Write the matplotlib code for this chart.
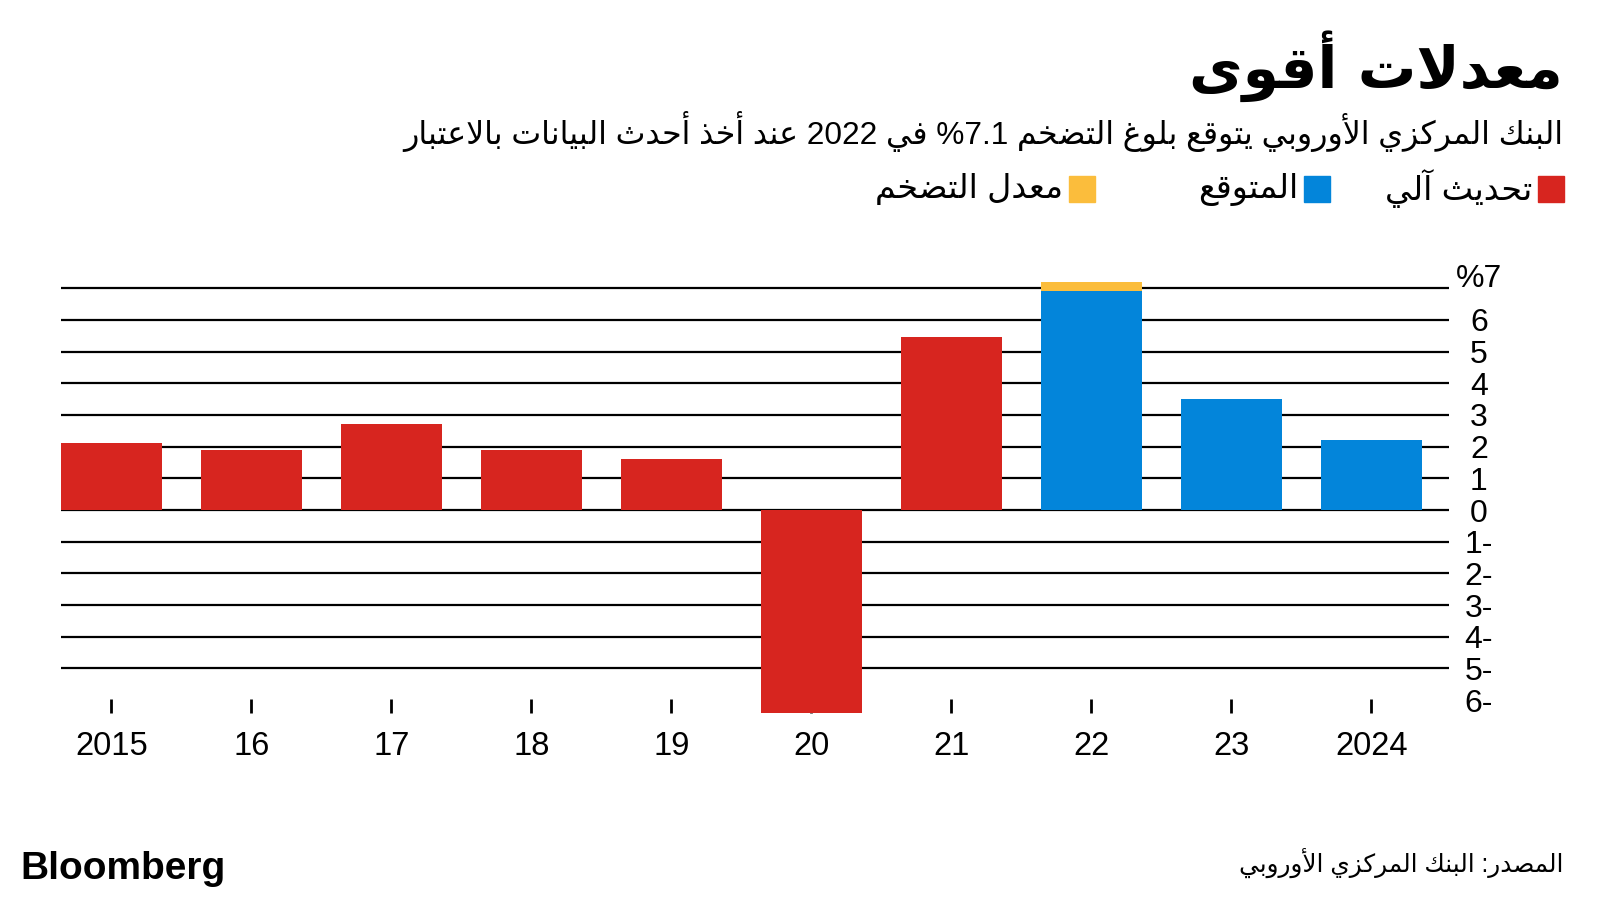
import numpy as np
import matplotlib
matplotlib.use("Agg")
import matplotlib.pyplot as plt
from matplotlib.patches import Rectangle

plt.rcParams['font.family'] = ['Liberation Sans', 'DejaVu Sans']

# data
years = ['2015', '16', '17', '18', '19', '20', '21', '22', '23', '2024']
actual = [2.1, 1.9, 2.7, 1.9, 1.6, -6.4, 5.45, 0, 0, 0]
forecast = [0, 0, 0, 0, 0, 0, 0, 6.9, 3.5, 2.2]
inflation_extra = [0, 0, 0, 0, 0, 0, 0, 0.3, 0, 0]
yticks = [7, 6, 5, 4, 3, 2, 1, 0, -1, -2, -3, -4, -5, -6]
ylabels = ['%7', '6', '5', '4', '3', '2', '1', '0', '1-', '2-', '3-', '4-', '5-', '6-']
gridvals = [7, 6, 5, 4, 3, 2, 1, 0, -1, -2, -3, -4, -5]

title = 'معدلات أقوى'
subtitle = 'البنك المركزي الأوروبي يتوقع بلوغ التضخم %7.1 في 2022 عند أخذ أحدث البيانات بالاعتبار'
legend_labels = ['تحديث آلي', 'المتوقع', 'معدل التضخم']
source = 'المصدر: البنك المركزي الأوروبي'

red = '#d7251f'
blue = '#0385da'
yellow = '#fbbd3c'

# --- tiny arabic shaper (no arabic_reshaper available) ---
FORMS = {
    'ء': (0xFE80, 1), 'آ': (0xFE81, 2), 'أ': (0xFE83, 2), 'ؤ': (0xFE85, 2),
    'إ': (0xFE87, 2), 'ئ': (0xFE89, 4), 'ا': (0xFE8D, 2), 'ب': (0xFE8F, 4),
    'ة': (0xFE93, 2), 'ت': (0xFE95, 4), 'ث': (0xFE99, 4), 'ج': (0xFE9D, 4),
    'ح': (0xFEA1, 4), 'خ': (0xFEA5, 4), 'د': (0xFEA9, 2), 'ذ': (0xFEAB, 2),
    'ر': (0xFEAD, 2), 'ز': (0xFEAF, 2), 'س': (0xFEB1, 4), 'ش': (0xFEB5, 4),
    'ص': (0xFEB9, 4), 'ض': (0xFEBD, 4), 'ط': (0xFEC1, 4), 'ظ': (0xFEC5, 4),
    'ع': (0xFEC9, 4), 'غ': (0xFECD, 4), 'ف': (0xFED1, 4), 'ق': (0xFED5, 4),
    'ك': (0xFED9, 4), 'ل': (0xFEDD, 4), 'م': (0xFEE1, 4), 'ن': (0xFEE5, 4),
    'ه': (0xFEE9, 4), 'و': (0xFEED, 2), 'ى': (0xFEEF, 2), 'ي': (0xFEF1, 4),
}
LAMALEF = {'آ': 0xFEF5, 'أ': 0xFEF7, 'إ': 0xFEF9, 'ا': 0xFEFB}


def shape_word(w):
    # merge lam + alef first
    units = []
    i = 0
    while i < len(w):
        if w[i] == 'ل' and i + 1 < len(w) and w[i + 1] in LAMALEF:
            units.append(('LA', w[i + 1]))
            i += 2
        else:
            units.append(('C', w[i]))
            i += 1

    def dual(u):
        return u[0] == 'C' and u[1] in FORMS and FORMS[u[1]][1] == 4

    def joins(u):
        return u[0] == 'LA' or (u[1] in FORMS and u[1] != 'ء')

    out = []
    for k, u in enumerate(units):
        prev_ok = k > 0 and dual(units[k - 1]) and joins(u)
        if u[0] == 'LA':
            out.append(chr(LAMALEF[u[1]] + (1 if prev_ok else 0)))
            continue
        c = u[1]
        if c not in FORMS:
            out.append(c)
            continue
        base, n = FORMS[c]
        next_ok = n == 4 and k + 1 < len(units) and joins(units[k + 1])
        if n == 1:
            out.append(chr(base))
        elif n == 2:
            out.append(chr(base + (1 if prev_ok else 0)))
        else:
            if prev_ok and next_ok:
                out.append(chr(base + 3))
            elif prev_ok:
                out.append(chr(base + 1))
            elif next_ok:
                out.append(chr(base + 2))
            else:
                out.append(chr(base))
    return ''.join(out)


def ar(text):
    words = text.split(' ')
    vis = []
    for w in words:
        if any(ch in FORMS for ch in w):
            vis.append(shape_word(w)[::-1])
        else:
            vis.append(w)
    return ' '.join(vis[::-1])


fig = plt.figure(figsize=(16, 9), dpi=100)
fig.patch.set_facecolor('white')

# axes placement in pixels
x_left, x_right = 61, 1449
y_zero, unit = 510, 31.67
ylo, yhi = -6.4, 7.5
bot_px = y_zero - ylo * unit
top_px = y_zero - yhi * unit
ax = fig.add_axes([x_left / 1600, (900 - bot_px) / 900,
                   (x_right - x_left) / 1600, (bot_px - top_px) / 900])

x = np.arange(len(years))
bw = 0.72
ax.bar(x, actual, bw, color=red, zorder=3)
ax.bar(x, forecast, bw, color=blue, zorder=3)
ax.bar(x, inflation_extra, bw, bottom=forecast, color=yellow, zorder=3)

for g in gridvals:
    ax.axhline(g, color='black', lw=1.6, zorder=1)

ax.set_xlim(-0.36, 9.555)
ax.set_ylim(ylo, yhi)
for s in ax.spines.values():
    s.set_visible(False)

ax.set_xticks(x)
ax.set_xticklabels(years, fontsize=23.5)
ax.tick_params(axis='x', direction='in', length=10, width=2, pad=13, color='black')

# y labels on the right, centred; the top one sits a little higher
ax.yaxis.tick_right()
ax.set_yticks(yticks[1:])
ax.set_yticklabels(ylabels[1:], fontsize=23)
ax.tick_params(axis='y', length=0, pad=21.5)
for lab in ax.get_yticklabels():
    lab.set_horizontalalignment('center')
ax.text(1 + 30 / (x_right - x_left), yticks[0] + 0.28, ylabels[0], fontsize=23,
        ha='center', va='center', transform=ax.get_yaxis_transform())

# header
fig.text(1563 / 1600, 1 - 66 / 900, ar(title), fontsize=42, fontweight='bold',
         ha='right', va='center', family=['DejaVu Sans'])
fig.text(1563 / 1600, 1 - 132 / 900, ar(subtitle), fontsize=22.8,
         ha='right', va='center')

# legend (right to left)
sq = 26
leg_y = 189
items = [(1564, red, legend_labels[0]), (1330, blue, legend_labels[1]),
         (1095, yellow, legend_labels[2])]
for right_px, col, lab in items:
    fig.patches.append(Rectangle(((right_px - sq) / 1600, 1 - (leg_y + sq / 2) / 900),
                                 sq / 1600, sq / 900, transform=fig.transFigure,
                                 color=col))
    fig.text((right_px - sq - 6) / 1600, 1 - leg_y / 900, ar(lab), fontsize=24,
             ha='right', va='center')

# footer
fig.text(20 / 1600, 1 - 869 / 900, 'Bloomberg', fontsize=28, fontweight='bold',
         ha='left', va='center')
fig.text(1563 / 1600, 1 - 863 / 900, ar(source), fontsize=17.8,
         ha='right', va='center')

fig.savefig('out.png', dpi=100, facecolor='white')
